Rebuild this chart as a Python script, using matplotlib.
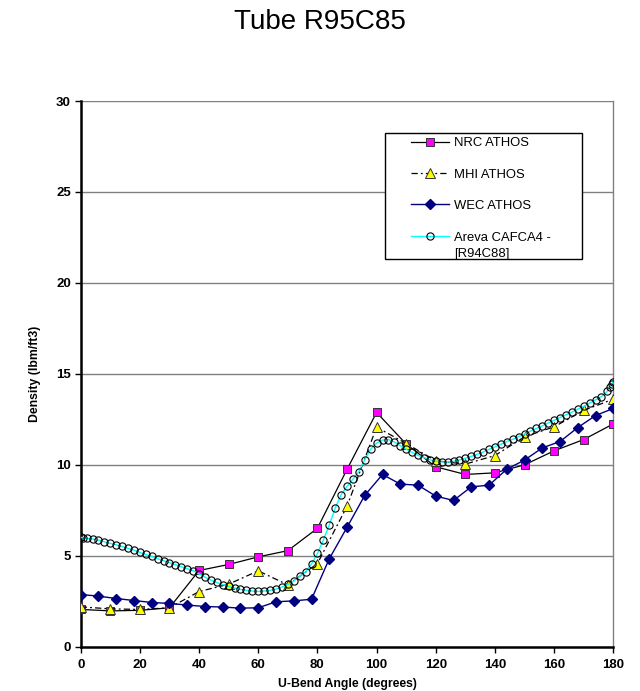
import matplotlib
matplotlib.use("Agg")
import matplotlib.pyplot as plt
from matplotlib.patches import Rectangle
import numpy as np

plt.rcParams['font.family'] = ['Liberation Sans', 'DejaVu Sans']

# ---- data ----
nrc_x = [0, 10, 20, 30, 40, 50, 60, 70, 80, 90, 100, 110, 120, 130, 140, 150, 160, 170, 180]
nrc_y = [2.05, 1.97, 2.0, 2.14, 4.19, 4.52, 4.94, 5.28, 6.51, 9.75, 12.88, 11.14, 9.89, 9.47, 9.56, 10.0, 10.77, 11.39, 12.25]

mhi_x = [0, 10, 20, 30, 40, 50, 60, 70, 80, 90, 100, 110, 120, 130, 140, 150, 160, 170, 180]
mhi_y = [2.19, 2.08, 2.05, 2.14, 3.03, 3.44, 4.17, 3.40, 4.57, 7.72, 12.07, 11.17, 10.22, 10.04, 10.51, 11.54, 12.09, 12.99, 13.61]

wec_x = [0, 6, 12, 18, 24, 30, 36, 42, 48, 54, 60, 66, 72, 78, 84, 90, 96, 102, 108,
         114, 120, 126, 132, 138, 144, 150, 156, 162, 168, 174, 180]
wec_y = [2.87, 2.78, 2.65, 2.54, 2.43, 2.38, 2.29, 2.21, 2.18, 2.12, 2.14, 2.47, 2.52, 2.61,
         4.83, 6.56, 8.32, 9.47, 8.94, 8.88, 8.28, 8.04, 8.79, 8.88, 9.76, 10.26, 10.93,
         11.28, 12.05, 12.71, 13.10]

areva_x = [0, 0.7, 2, 4, 6, 8, 10, 12, 14, 16, 18, 20, 22, 24, 26, 28, 30, 32, 34, 36, 38,
           40, 42, 44, 46, 48, 50, 52, 54, 56, 58, 60, 62, 64, 66, 68, 70, 72, 74, 76, 78,
           80, 82, 84, 86, 88, 90, 92, 94, 96, 98, 100, 102, 104, 106, 108, 110, 112, 114,
           116, 118, 120, 122, 124, 126, 128, 130, 132, 134, 136, 138, 140, 142, 144, 146,
           148, 150, 152, 154, 156, 158, 160, 162, 164, 166, 168, 170, 172, 174, 176, 178,
           179, 179.6, 180]
areva_y = [6.01, 5.99, 5.95, 5.92, 5.86, 5.77, 5.68, 5.60, 5.51, 5.40, 5.31, 5.18, 5.07, 4.96,
           4.84, 4.73, 4.62, 4.51, 4.40, 4.29, 4.18,
           4.00, 3.82, 3.66, 3.53, 3.41, 3.32, 3.22, 3.15, 3.10, 3.06, 3.04, 3.06, 3.10, 3.17,
           3.28, 3.42, 3.61, 3.86, 4.12, 4.55,
           5.13, 5.86, 6.69, 7.61, 8.35, 8.81, 9.21, 9.63, 10.28, 10.86, 11.19, 11.36, 11.39,
           11.26, 11.05, 10.86, 10.68, 10.52, 10.40, 10.28, 10.20, 10.16, 10.15, 10.19, 10.27,
           10.36, 10.46, 10.58, 10.70, 10.85, 10.99, 11.13, 11.28, 11.40, 11.55, 11.69, 11.85,
           12.00, 12.14, 12.30, 12.45, 12.60, 12.75, 12.90, 13.06, 13.21, 13.39, 13.57, 13.75,
           14.05, 14.30, 14.45, 14.58]

x_ticks = [0, 20, 40, 60, 80, 100, 120, 140, 160, 180]
y_ticks = [0, 5, 10, 15, 20, 25, 30]

title = "Tube R95C85"
xlabel = "U-Bend Angle (degrees)"
ylabel = "Density (lbm/ft3)"
labels = ["NRC ATHOS", "MHI ATHOS", "WEC ATHOS", "Areva CAFCA4 -"]
label_extra = "[R94C88]"

# ---- figure ----
fig = plt.figure(figsize=(6.4, 6.91), dpi=100)
ax = fig.add_axes([0.1261, 0.0641, 0.8322, 0.7897])

ax.set_xlim(0, 180)
ax.set_ylim(0, 30)
ax.set_yticks(y_ticks)
ax.set_xticks(x_ticks)
for y in y_ticks[1:]:
    ax.axhline(y, color='#808080', lw=1.0, zorder=1)

ax.spines['left'].set_linewidth(1.8)
ax.spines['bottom'].set_linewidth(1.8)
ax.spines['top'].set_visible(False)
ax.spines['right'].set_color('#808080')
ax.spines['right'].set_linewidth(1.0)
ax.tick_params(axis='both', direction='out', length=4, width=1.0, labelsize=9.5, pad=3)
for lab in ax.get_xticklabels() + ax.get_yticklabels():
    lab.set_fontweight('bold')
ax.tick_params(axis='x', pad=5)

h1, = ax.plot(nrc_x, nrc_y, color='black', lw=0.9, marker='s', ms=6.2,
              mfc='#FF00FF', mec='#333333', mew=0.7, zorder=3, label=labels[0])
h2, = ax.plot(mhi_x, mhi_y, color='black', lw=0.9, linestyle=(0, (5, 2.5, 1.5, 2.5)),
              marker='^', ms=6.5, mfc='#FFFF00', mec='#333333', mew=0.7, zorder=3, label=labels[1])
h3, = ax.plot(wec_x, wec_y, color='#000080', lw=1.0, marker='D', ms=4.6,
              mfc='#000080', mec='#000080', zorder=3, label=labels[2])
h4, = ax.plot(areva_x, areva_y, color='#00FFFF', lw=1.0, marker='o', ms=5.2,
              mfc='none', mec='black', mew=0.8, zorder=4, label=labels[3])

ax.set_xlabel(xlabel, fontsize=8.8, fontweight='bold', labelpad=5)
ax.set_ylabel(ylabel, fontsize=8.8, fontweight='bold', labelpad=11)

fig.text(0.5, 1 - 22 / 691, title, fontsize=20, ha='center', va='center')

# legend box
box = Rectangle((385 / 640, 1 - 259 / 691), (582 - 385) / 640, (259 - 133) / 691,
                transform=fig.transFigure, facecolor='white', edgecolor='black',
                lw=1.0, zorder=5)
fig.patches.append(box)

leg = fig.legend(handles=[h1, h2, h3, h4], loc='upper left',
                 bbox_to_anchor=(411 / 640, 1 - 137 / 691), frameon=False,
                 fontsize=9.4, handlelength=2.9, handletextpad=0.4,
                 labelspacing=1.48, borderpad=0, borderaxespad=0)
leg.set_zorder(6)
fig.canvas.draw()
last = leg.get_texts()[-1]
bb = last.get_window_extent().transformed(fig.transFigure.inverted())
fig.text(bb.x0, bb.y0 - 4.5 / 691, label_extra, fontsize=9.4, ha='left', va='top', zorder=7)

fig.savefig("out.png", dpi=100)
